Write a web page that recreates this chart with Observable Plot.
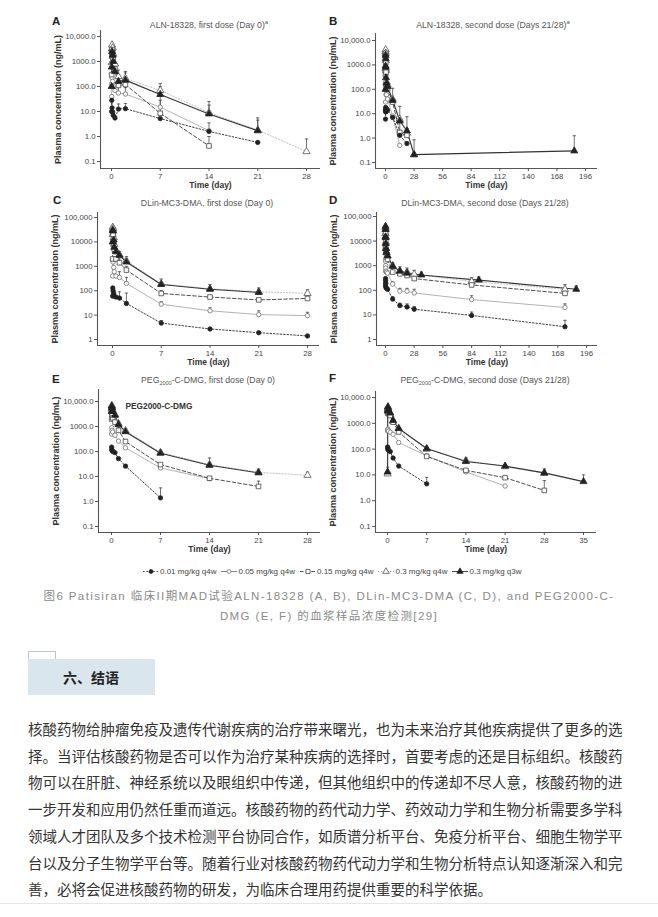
<!DOCTYPE html>
<html><head><meta charset="utf-8">
<script src="https://cdn.jsdelivr.net/npm/d3@7"></script>
<script src="https://cdn.jsdelivr.net/npm/@observablehq/plot@0.6"></script>
<style>
html,body{margin:0;padding:0;background:#fff;}
body{width:658px;height:917px;position:relative;overflow:hidden;font-family:"Liberation Sans",Arial,"Noto Sans CJK SC",sans-serif;}
.abs{position:absolute;white-space:nowrap;}
.panel{position:absolute;}
.letter{font-weight:bold;font-size:11.5px;color:#222;transform:translateY(-50%);}
.ptitle{font-size:8.7px;color:#555;transform:translate(-50%,-50%);}
.ptitle sup{font-size:6px;vertical-align:4px;line-height:0;}
.ptitle sub{font-size:5.5px;vertical-align:-2px;line-height:0;}
#legend{left:143px;top:571px;transform:translateY(-50%);display:flex;gap:5px;align-items:center;font-size:8px;color:#444;}
#legend .li{display:flex;align-items:center;gap:1px;}
.cap{left:0;width:658px;text-align:center;font-size:11.5px;letter-spacing:1.4px;color:#8a8a8a;transform:translateY(-50%);font-family:"Liberation Sans",Arial,"Noto Sans CJK SC",sans-serif;}
#tab{left:28px;top:651px;width:26px;height:7px;border:1px solid #b9c7d4;border-bottom:none;}
#hbox{left:28px;top:659px;width:127px;height:36px;background:#dae6ee;}
#htext{left:63px;top:677px;transform:translateY(-50%);font-size:14px;font-weight:bold;color:#222;font-family:"Noto Sans CJK SC",sans-serif;}
.para{left:28px;font-size:14.5px;color:#333;font-family:"Noto Sans CJK SC",sans-serif;transform:translateY(-50%);}
#hr{left:0;top:903px;width:658px;height:1px;background:#e6e6e6;}
</style></head><body>
<div id="root"></div>
<script>
// ---------------- data ----------------
const doses = ["0.01 mg/kg q4w", "0.05 mg/kg q4w", "0.15 mg/kg q4w", "0.3 mg/kg q4w", "0.3 mg/kg q3w"];

const xTicks28 = [0, 7, 14, 21, 28];
const xTicks196 = [0, 28, 56, 84, 112, 140, 168, 196];
const xTicks35 = [0, 7, 14, 21, 28, 35];
const yTicksA = [0.1, 1, 10, 100, 1000, 10000];
const yLabelsA = ["0.1", "1.0", "10.0", "100.0", "1000.0", "10,000.0"];
const yTicksC = [1, 10, 100, 1000, 10000, 100000];
const yLabelsC = ["1", "10", "100", "1000", "10000", "100,000"];

// rows: [time (day), concentration (ng/mL), upper error bar]
// A: ALN-18328, first dose
const A_d001 = [[0.02,10],[0.04,28],[0.08,14],[0.17,9.5],[0.25,7],[0.5,5.5],[1,12.5,20],[2,13,21],[7,5.2],[14,1.6],[21,0.58]];
const A_d005 = [[0.02,40],[0.04,130],[0.08,220],[0.17,160],[0.25,100],[0.5,70],[1,55,95],[2,50,90],[7,15,28],[14,1.7,3.5]];
const A_d015 = [[0.02,300],[0.04,1600],[0.08,3000],[0.17,2200],[0.25,1200],[0.5,500],[1,110,250],[2,120,260],[7,8.5,40],[14,0.42,1.0]];
const A_d03q4 = [[0.02,900],[0.04,3200],[0.08,4600],[0.17,3500],[0.25,2000],[0.5,800],[1,250,450],[2,210,400],[7,70,130],[14,9,25],[21,1.8,5.5],[28,0.25,0.8]];
const A_d03q3 = [[0.02,100],[0.04,600],[0.08,2500],[0.17,1800],[0.25,1000],[0.5,400],[1,160,300],[2,180,350],[7,48,100],[14,8,18],[21,1.7,4.5]];
// B: ALN-18328, second dose
const B_d001 = [[0.02,6],[0.04,15],[0.08,12],[0.17,18],[0.25,14],[0.5,12],[1,16],[2,14],[7,7],[14,1.3],[21,0.6]];
const B_d005 = [[0.02,30],[0.04,120],[0.08,200],[0.17,150],[0.25,90],[0.5,60],[1,60],[2,40],[7,8],[14,0.5]];
const B_d015 = [[0.02,400],[0.04,2500],[0.08,3000],[0.17,2000],[0.25,1200],[0.5,500],[1,150],[2,100],[7,30],[14,1.7,5],[21,1.3,2.5]];
const B_d03q4 = [[0.02,700],[0.04,3500],[0.08,4200],[0.17,3000],[0.25,1500],[0.5,600],[1,200,300],[2,150],[7,40,110],[14,6,20],[21,1.6],[28,0.21,0.85]];
const B_d03q3 = [[0.02,100],[0.04,900],[0.08,2500],[0.17,1800],[0.25,800],[0.5,300],[1,180],[2,130],[7,35],[14,5],[21,2,7.5],[28,0.21],[185,0.3,1.25]];
// C: DLin-MC3-DMA, first dose
const C_d001 = [[0.02,60],[0.04,130],[0.08,100],[0.17,80],[0.25,60],[0.5,55],[1,50,90],[2,30,80],[7,4.7,6],[14,2.7],[21,1.9],[28,1.4]];
const C_d005 = [[0.02,400],[0.04,1800],[0.08,1500],[0.17,900],[0.25,600],[0.5,400],[1,350,600],[2,200,350],[7,28,35],[14,15,20],[21,10.5,15],[28,9.5,13]];
const C_d015 = [[0.02,2000],[0.04,25000],[0.08,20000],[0.17,9000],[0.25,5000],[0.5,2000],[1,1400,2000],[2,700,1000],[7,77,100],[14,55],[21,42],[28,48,60]];
const C_d03q4 = [[0.02,20000],[0.04,40000],[0.08,35000],[0.17,15000],[0.25,8000],[0.5,4500],[1,3000,4000],[2,1700,2500],[7,190,300],[14,120,180],[21,90,130],[28,78,110]];
const C_d03q3 = [[0.02,10000],[0.04,30000],[0.08,28000],[0.17,12000],[0.25,6000],[0.5,4000],[1,2800],[2,1500],[7,180],[14,115],[21,85]];
// D: DLin-MC3-DMA, second dose
const D_d001 = [[0.02,150],[0.04,300],[0.08,250],[0.17,200],[0.25,180],[0.5,130],[1,120],[2,110],[7,44,55],[14,24,30],[21,21,28],[28,17,22],[84,9.5,13],[175,3.3,6]];
const D_d005 = [[0.02,600],[0.04,1800],[0.08,1500],[0.17,1000],[0.25,800],[0.5,600],[1,550],[2,500],[7,180,220],[14,92,120],[21,92,120],[28,78,110],[84,42,60],[175,20,28]];
const D_d015 = [[0.02,5000],[0.04,25000],[0.08,20000],[0.17,10000],[0.25,6000],[0.5,4000],[1,3000],[2,1800],[7,550,800],[14,470],[21,400],[28,300],[84,165,250],[175,75,100]];
const D_d03q4 = [[0.02,20000],[0.04,35000],[0.08,30000],[0.17,15000],[0.25,9000],[0.5,5000],[1,3500],[2,2500],[7,1000,1300],[14,620,900],[21,550,800],[28,450,650],[84,230,330],[175,110,170]];
const D_d03q3 = [[0.02,15000],[0.04,40000],[0.08,30000],[0.17,14000],[0.25,8000],[0.5,5000],[1,3500],[2,2500],[7,950],[14,600],[21,500],[35,420,550],[91,260,350],[186,110,150]];
// E: PEG2000-C-DMG, first dose
const E_d001 = [[0.02,150],[0.04,120],[0.08,110],[0.17,100],[0.5,90],[1,52],[2,26,30],[7,1.4,3.5]];
const E_d005 = [[0.02,500],[0.04,900],[0.08,700],[0.17,600],[0.5,450],[1,260],[2,140],[7,22],[14,8.2]];
const E_d015 = [[0.02,2000],[0.04,3500],[0.08,3000],[0.17,2200],[0.5,1500],[1,700,900],[2,250,300],[7,30],[14,8.5],[21,4,6.5]];
const E_d03q4 = [[0.02,5000],[0.04,7000],[0.08,6000],[0.17,4500],[0.5,3000],[1,1300,1600],[2,680,800],[7,92,110],[14,30,55],[21,14.6,20],[28,11.2,15]];
const E_d03q3 = [[0.02,4000],[0.04,6500],[0.08,5500],[0.17,4000],[0.5,2800],[1,1200],[2,620],[7,85],[14,28],[21,14,18]];
// F: PEG2000-C-DMG, second dose
const F_d001 = [[0.02,120],[0.04,100],[0.08,110],[0.17,90],[0.5,80],[1,45],[2,22],[7,4.5,8]];
const F_d005 = [[0.02,500],[0.04,600],[0.08,550],[0.17,500],[0.5,450],[1,375],[2,180],[7,55],[14,13],[21,3.7]];
const F_d015 = [[0.02,2500],[0.04,3500],[0.08,3000],[0.17,2500],[0.5,2000],[1,1100],[2,460],[7,52],[14,15],[21,7.8],[28,2.5,6]];
const F_d03q4 = [[0.02,11],[0.04,3500],[0.08,4000],[0.17,3000],[0.5,2200],[1,1200],[2,620],[7,100,120],[14,36,45],[21,21,25],[28,11.5,17]];
const F_d03q3 = [[0.02,13,20],[0.04,3000],[0.08,4400],[0.17,3500],[0.5,2500],[1,1300],[2,630],[7,105],[14,33],[21,22],[28,12],[35,5.5,10]];

const titles = [
  "ALN-18328, first dose (Day 0)<sup>a</sup>",
  "ALN-18328, second dose (Days 21/28)<sup>a</sup>",
  "DLin-MC3-DMA, first dose (Day 0)",
  "DLin-MC3-DMA, second dose (Days 21/28)",
  "PEG<sub>2000</sub>-C-DMG, first dose (Day 0)",
  "PEG<sub>2000</sub>-C-DMG, second dose (Days 21/28)"
];
const letters = ["A","B","C","D","E","F"];
const yAxisLabel = "Plasma concentration (ng/mL)";
const xAxisLabel = "Time (day)";

const captionLines = [
  "图6 Patisiran 临床II期MAD试验ALN-18328 (A, B), DLin-MC3-DMA (C, D), and PEG2000-C-",
  "DMG (E, F) 的血浆样品浓度检测[29]"
];
const heading = "六、结语";
const paraLines = [
  "核酸药物给肿瘤免疫及遗传代谢疾病的治疗带来曙光，也为未来治疗其他疾病提供了更多的选",
  "择。当评估核酸药物是否可以作为治疗某种疾病的选择时，首要考虑的还是目标组织。核酸药",
  "物可以在肝脏、神经系统以及眼组织中传递，但其他组织中的传递却不尽人意，核酸药物的进",
  "一步开发和应用仍然任重而道远。核酸药物的药代动力学、药效动力学和生物分析需要多学科",
  "领域人才团队及多个技术检测平台协同合作，如质谱分析平台、免疫分析平台、细胞生物学平",
  "台以及分子生物学平台等。随着行业对核酸药物药代动力学和生物分析特点认知逐渐深入和完",
  "善，必将会促进核酸药物的研发，为临床合理用药提供重要的科学依据。"
];

// ---------------- styles & layout ----------------
const doseStyle = [
  {line:"#2a2a2a", dash:"1.6,1.8", w:0.9, symbol:"circle",   fill:"#222",  stroke:"#222", r:2.2},
  {line:"#a9a9a9", dash:null,      w:0.9, symbol:"circle",   fill:"white", stroke:"#707070", r:2.2},
  {line:"#3a3a3a", dash:"3.5,2.2", w:0.9, symbol:"square",   fill:"white", stroke:"#444", r:2.6},
  {line:"#b8b8b8", dash:"1.2,1.8", w:0.9, symbol:"triangle", fill:"white", stroke:"#555", r:2.7},
  {line:"#333",    dash:null,      w:1.1, symbol:"triangle", fill:"#222",  stroke:"#222", r:2.6}
];
const drawOrder = [3, 1, 2, 0, 4];

const layout = [
  {svg:[0,0,329,195],     frame:[100,320,168,30],  xcal:[0,111,28,306], ycal:[10000,36,0.1,161],   xt:xTicks28,  yt:yTicksA, yl:yLabelsA, series:[A_d001,A_d005,A_d015,A_d03q4,A_d03q3], letter:[52,21],  title:[209,25]},
  {svg:[329,0,329,195],   frame:[375,597,168,33],  xcal:[0,385,196,585],ycal:[10000,40,0.1,162],   xt:xTicks196, yt:yTicksA, yl:yLabelsA, series:[B_d001,B_d005,B_d015,B_d03q4,B_d03q3], letter:[329,21], title:[493,25]},
  {svg:[0,190,329,175],   frame:[97,319,345,212],  xcal:[0,112,28,307], ycal:[100000,217,1,339],   xt:xTicks28,  yt:yTicksC, yl:yLabelsC, series:[C_d001,C_d005,C_d015,C_d03q4,C_d03q3], letter:[53,200], title:[207,203]},
  {svg:[329,190,329,175], frame:[376,597,345,212], xcal:[0,385,196,586],ycal:[100000,216,1,339],   xt:xTicks196, yt:yTicksC, yl:yLabelsC, series:[D_d001,D_d005,D_d015,D_d03q4,D_d03q3], letter:[329,200],title:[485,203]},
  {svg:[0,365,329,195],   frame:[98,320,532,389],  xcal:[0,111,28,307], ycal:[10000,401,0.1,526],  xt:xTicks28,  yt:yTicksA, yl:yLabelsA, series:[E_d001,E_d005,E_d015,E_d03q4,E_d03q3], letter:[52,379], title:[208,380], note:"PEG2000-C-DMG", notePos:[125,406]},
  {svg:[329,365,329,195], frame:[375,596,532,391], xcal:[0,387,35,583], ycal:[10000,397,0.1,526],  xt:xTicks35,  yt:yTicksA, yl:yLabelsA, series:[F_d001,F_d005,F_d015,F_d03q4,F_d03q3], letter:[329,378],title:[485,380]}
];

function lin(v0,p0,v1,p1,pa,pb){const k=(v1-v0)/(p1-p0);return [v0+(pa-p0)*k, v0+(pb-p0)*k];}
function logd(v0,p0,v1,p1,pa,pb){const [a,b]=lin(Math.log10(v0),p0,Math.log10(v1),p1,pa,pb);return [10**a,10**b];}

const capSymbol = {draw(ctx, size){const r=Math.sqrt(size/Math.PI);ctx.moveTo(-r,0);ctx.lineTo(r,0);}};
const X = d => d[0], Y = d => d[1], U = d => d[2];

function addDiv(cls, left, top, html, id){
  const el=document.createElement("div");el.className="abs "+(cls||"");
  if(id) el.id=id;
  if(left!=null) el.style.left=left+"px"; if(top!=null) el.style.top=top+"px";
  if(html!=null) el.innerHTML=html; document.body.appendChild(el); return el;
}

layout.forEach((L, pi) => {
  const [sl, st, sw, sh] = L.svg;
  const [fx0, fx1, fyb, fyt] = L.frame;
  const xd = lin(L.xcal[0],L.xcal[1],L.xcal[2],L.xcal[3], fx0, fx1);
  const yd = logd(L.ycal[0],L.ycal[1],L.ycal[2],L.ycal[3], fyb, fyt);
  const marks = [];
  marks.push(Plot.ruleX([xd[0]], {stroke:"#555", strokeWidth:1.1}));
  marks.push(Plot.ruleY([yd[0]], {stroke:"#555", strokeWidth:1.1}));
  marks.push(Plot.axisX({ticks:L.xt, tickFormat:d=>String(d), tickSize:3, tickPadding:1.5, fontSize:7.8, label:null, stroke:"#555", fill:"#444"}));
  marks.push(Plot.axisY({ticks:L.yt, tickFormat:d=>L.yl[L.yt.indexOf(d)], tickSize:3, tickPadding:2, fontSize:7.8, label:null, stroke:"#555", fill:"#444"}));
  drawOrder.forEach(i => {
    const s = doseStyle[i];
    const o = {x:X, y:Y, stroke:s.line, strokeWidth:s.w};
    if (s.dash) o.strokeDasharray = s.dash;
    marks.push(Plot.line(L.series[i], o));
  });
  drawOrder.forEach(i => {
    const eb = L.series[i].filter(d => d[2] != null);
    marks.push(Plot.ruleX(eb, {x:X, y1:Y, y2:U, stroke:"#444", strokeWidth:0.75}));
    marks.push(Plot.dot(eb, {x:X, y:U, symbol:capSymbol, r:1.7, stroke:"#444", strokeWidth:0.75, fill:"none"}));
  });
  drawOrder.forEach(i => {
    const s = doseStyle[i];
    marks.push(Plot.dot(L.series[i], {x:X, y:Y, symbol:s.symbol, r:s.r, fill:s.fill, stroke:s.stroke, strokeWidth:0.8}));
  });
  marks.push(Plot.text([xAxisLabel], {text:d=>d, frameAnchor:"bottom", dy:17, lineAnchor:"middle", fontWeight:"bold", fontSize:8.5, fill:"#333"}));
  marks.push(Plot.text([yAxisLabel], {text:d=>d, frameAnchor:"left", rotate:-90, dx:-42, textAnchor:"middle", lineAnchor:"middle", fontWeight:"bold", fontSize:9, fill:"#333"}));
  if (L.note) {
    marks.push(Plot.text([L.note], {text:d=>d, frameAnchor:"top-left", dx:L.notePos[0]-fx0, dy:L.notePos[1]-fyt, textAnchor:"start", lineAnchor:"middle", fontWeight:"bold", fontSize:8.3, fill:"#333"}));
  }
  const svg = Plot.plot({
    width: sw, height: sh,
    marginLeft: fx0 - sl, marginRight: sl + sw - fx1,
    marginTop: fyt - st, marginBottom: st + sh - fyb,
    x: {type:"linear", domain: xd},
    y: {type:"log", domain: yd},
    style: {background:"transparent", color:"#444", fontFamily:"Liberation Sans, Arial, sans-serif", overflow:"visible"},
    marks
  });
  const div = document.createElement("div");
  div.className = "panel";
  div.style.left = sl+"px"; div.style.top = st+"px"; div.style.width = sw+"px"; div.style.height = sh+"px";
  div.appendChild(svg);
  document.body.appendChild(div);
  addDiv("letter", L.letter[0], L.letter[1], letters[pi]);
  addDiv("ptitle", L.title[0], L.title[1], titles[pi]);
});

// legend
const symMap = {circle:d3.symbolCircle, square:d3.symbolSquare, triangle:d3.symbolTriangle};
const legend = addDiv("", null, null, null, "legend");
doses.forEach((name, i) => {
  const s = doseStyle[i];
  const item = document.createElement("span"); item.className = "li";
  const sv = d3.create("svg").attr("width",16).attr("height",8).style("overflow","visible");
  const ln = sv.append("line").attr("x1",0).attr("x2",16).attr("y1",4).attr("y2",4)
    .attr("stroke", i===3 ? "#888" : (i===1 ? "#777" : s.line)).attr("stroke-width",0.9);
  if (s.dash) ln.attr("stroke-dasharray", s.dash);
  sv.append("path").attr("transform","translate(8,4)")
    .attr("d", d3.symbol(symMap[s.symbol], Math.PI*s.r*s.r*0.8)())
    .attr("fill", s.fill).attr("stroke", s.stroke).attr("stroke-width",0.8);
  item.appendChild(sv.node());
  const t = document.createElement("span"); t.textContent = name; item.appendChild(t);
  legend.appendChild(item);
});

// caption
captionLines.forEach((c, i) => addDiv("cap", null, 595 + i*19.5, null).textContent = c);

// heading box
addDiv("", null, null, "", "tab");
addDiv("", null, null, "", "hbox");
addDiv("", null, null, heading, "htext");

// paragraph
paraLines.forEach((l, i) => { addDiv("para", null, 728 + i*26.7, null).textContent = l; });
addDiv("", null, null, "", "hr");
</script>
</body></html>
